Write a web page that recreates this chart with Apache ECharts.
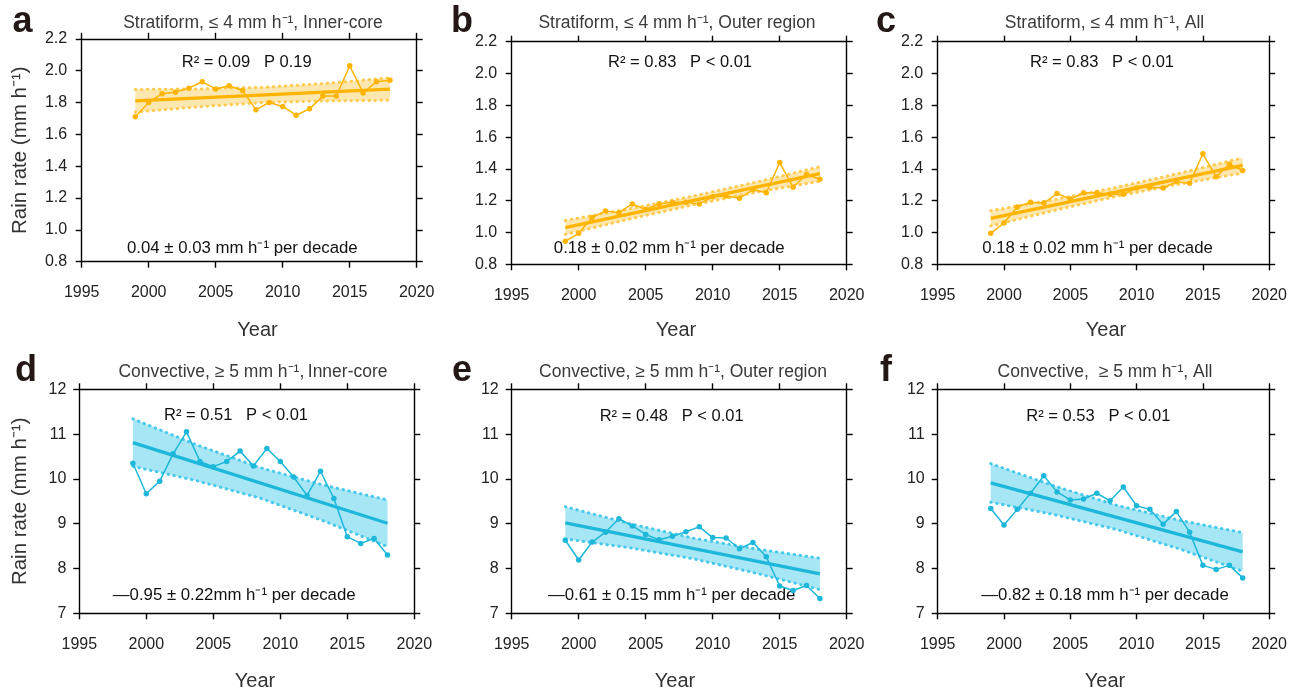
<!DOCTYPE html>
<html><head><meta charset="utf-8">
<script src="https://cdn.jsdelivr.net/npm/echarts@6/dist/echarts.min.js"></script>
<style>html,body{margin:0;padding:0;background:#fff}#c{width:1290px;height:691px}</style>
</head><body><div id="c"></div>
<script>
// ---------------- data ----------------
const years = [1999,2000,2001,2002,2003,2004,2005,2006,2007,2008,2009,2010,2011,2012,2013,2014,2015,2016,2017,2018];

const stratInner = [1.71,1.80,1.855,1.865,1.89,1.93,1.885,1.905,1.875,1.755,1.80,1.775,1.72,1.76,1.84,1.84,2.03,1.86,1.93,1.94];
const stratOuter = [0.945,0.995,1.095,1.135,1.125,1.18,1.145,1.18,1.19,1.19,1.18,1.225,1.23,1.215,1.27,1.25,1.44,1.285,1.365,1.335];
const stratAll   = [0.995,1.06,1.16,1.19,1.185,1.245,1.21,1.25,1.25,1.24,1.24,1.28,1.285,1.28,1.32,1.31,1.495,1.35,1.43,1.39];
const convInner  = [10.35,9.67,9.95,10.56,11.05,10.39,10.27,10.39,10.62,10.29,10.68,10.39,10.04,9.63,10.17,9.56,8.71,8.56,8.67,8.30];
const convOuter  = [8.63,8.19,8.59,8.81,9.11,8.95,8.76,8.64,8.72,8.82,8.93,8.69,8.68,8.44,8.58,8.26,7.61,7.51,7.62,7.33];
const convAll    = [9.34,8.97,9.32,9.68,10.07,9.71,9.53,9.55,9.68,9.51,9.82,9.40,9.32,8.99,9.27,8.81,8.07,7.98,8.07,7.79];

// fitted trend lines (read at 1999 and 2018)
const trendYears = [1999, 2018];
const trendStratInner = [1.81, 1.884];
const trendStratOuter = [1.031, 1.370];
const trendStratAll   = [1.089, 1.4225];
const trendConvInner  = [10.81, 9.01];
const trendConvOuter  = [9.02, 7.88];
const trendConvAll    = [9.91, 8.37];

// confidence band edges
const bandYears = [1999, 2003.75, 2008.5, 2013.25, 2018];
const bandUpStratInner = [1.882, 1.885, 1.895, 1.92, 1.955];
const bandLoStratInner = [1.74, 1.773, 1.80, 1.81, 1.814];
const bandUpStratOuter = [1.076, 1.148, 1.228, 1.317, 1.414];
const bandLoStratOuter = [0.988, 1.084, 1.173, 1.253, 1.322];
const bandUpStratAll   = [1.137, 1.206, 1.284, 1.373, 1.470];
const bandLoStratAll   = [1.041, 1.138, 1.228, 1.305, 1.374];
const bandUpConvInner  = [11.34, 10.76, 10.25, 9.86, 9.53];
const bandLoConvInner  = [10.28, 9.96, 9.57, 9.06, 8.49];
const bandUpConvOuter  = [9.38, 9.005, 8.68, 8.435, 8.23];
const bandLoConvOuter  = [8.66, 8.465, 8.22, 7.895, 7.53];
const bandUpConvAll    = [10.34, 9.845, 9.41, 9.075, 8.80];
const bandLoConvAll    = [9.48, 9.205, 8.87, 8.435, 7.94];

// text
const panelLetters = ['a','b','c','d','e','f'];
const panelTitles = [
  'Stratiform, \u2264 4 mm h\u207B\u00B9, Inner-core',
  'Stratiform, \u2264 4 mm h\u207B\u00B9, Outer region',
  'Stratiform, \u2264 4 mm h\u207B\u00B9, All',
  'Convective, \u2265 5 mm h\u207B\u00B9,\u2009Inner-core',
  'Convective, \u2265 5 mm h\u207B\u00B9, Outer region',
  'Convective,  \u2265 5 mm h\u207B\u00B9, All'
];
const statTexts = [
  'R\u00B2 = 0.09   P 0.19',
  'R\u00B2 = 0.83   P < 0.01',
  'R\u00B2 = 0.83   P < 0.01',
  'R\u00B2 = 0.51   P < 0.01',
  'R\u00B2 = 0.48   P < 0.01',
  'R\u00B2 = 0.53   P < 0.01'
];
const trendTexts = [
  '0.04 \u00B1 0.03 mm h\u207B\u00B9 per decade',
  '0.18 \u00B1 0.02 mm h\u207B\u00B9 per decade',
  '0.18 \u00B1 0.02 mm h\u207B\u00B9 per decade',
  '\u20140.95 \u00B1 0.22mm h\u207B\u00B9 per decade',
  '\u20140.61 \u00B1 0.15 mm h\u207B\u00B9 per decade',
  '\u20140.82 \u00B1 0.18 mm h\u207B\u00B9 per decade'
];
const xRange = [1995, 2020], xStep = 5;
const yRangeStrat = [0.8, 2.2], yStepStrat = 0.2;
const yRangeConv = [7, 12], yStepConv = 1;

// ---------------- layout / style ----------------
const FONT = '"Liberation Sans", Arial, Helvetica, sans-serif';
const ORANGE = {line:'#FFB400', fill:'#FDE7B0', dot:'#FFCB50'};
const CYAN = {line:'#1DB7DA', fill:'#A7E7F5', dot:'#47C9EC'};

const layout = [
  {left:81.7, top:38.8, width:335, height:222.9},
  {left:511.7,top:41.7, width:335, height:222.6},
  {left:937.7,top:41.7, width:335, height:222.6},
  {left:79.3, top:389.3,width:335, height:224},
  {left:511.7,top:389.3,width:335, height:224},
  {left:937.7,top:389.3,width:335, height:224}
];
// text anchor positions [x, y]
const titlePos  = [[253,23],[677,23],[1104.5,23],[253,372],[683,372],[1105,372]];
const letterPos = [[22.5,22],[462,22],[886,22],[26,371],[462,371],[886,371]];
const statPos   = [[246.7,62],[680,62],[1102,62],[236,415.7],[671.7,416],[1098.3,416]];
const decPos    = [[242.3,248.3],[669.2,248.3],[1097.5,248.3],[234.2,595.7],[671.7,595.7],[1105,595.7]];
const yearPos   = [[257.5,330],[676,330],[1106,330],[255,681],[675,681],[1105,681]];

const panels = [
  {vals:stratInner, trend:trendStratInner, up:bandUpStratInner, lo:bandLoStratInner, c:ORANGE, yr:yRangeStrat, ys:yStepStrat},
  {vals:stratOuter, trend:trendStratOuter, up:bandUpStratOuter, lo:bandLoStratOuter, c:ORANGE, yr:yRangeStrat, ys:yStepStrat},
  {vals:stratAll,   trend:trendStratAll,   up:bandUpStratAll,   lo:bandLoStratAll,   c:ORANGE, yr:yRangeStrat, ys:yStepStrat},
  {vals:convInner,  trend:trendConvInner,  up:bandUpConvInner,  lo:bandLoConvInner,  c:CYAN,   yr:yRangeConv,  ys:yStepConv},
  {vals:convOuter,  trend:trendConvOuter,  up:bandUpConvOuter,  lo:bandLoConvOuter,  c:CYAN,   yr:yRangeConv,  ys:yStepConv},
  {vals:convAll,    trend:trendConvAll,    up:bandUpConvAll,    lo:bandLoConvAll,    c:CYAN,   yr:yRangeConv,  ys:yStepConv}
];

const axisLine = {show:true, onZero:false, lineStyle:{color:'#000', width:1.4}};
const axisTick = {show:true, inside:false, length:6, lineStyle:{color:'#000', width:1.4}};

const grid = [], xAxis = [], yAxis = [], series = [], graphic = [];

panels.forEach((p, i) => {
  const L = layout[i];
  grid.push({left:L.left, top:L.top, width:L.width, height:L.height, containLabel:false});
  const strat = p.yr === yRangeStrat;
  xAxis.push({type:'value', gridIndex:i, position:'bottom', min:xRange[0], max:xRange[1], interval:xStep,
    axisLine, axisTick, splitLine:{show:false},
    axisLabel:{show:true, margin:23, fontSize:16, color:'#222', fontFamily:FONT, formatter: v => String(v)}});
  xAxis.push({type:'value', gridIndex:i, position:'top', min:xRange[0], max:xRange[1], interval:xStep,
    axisLine, axisTick, splitLine:{show:false}, axisLabel:{show:false}});
  yAxis.push({type:'value', gridIndex:i, position:'left', min:p.yr[0], max:p.yr[1], interval:p.ys,
    axisLine, axisTick, splitLine:{show:false},
    axisLabel:{show:true, margin: i < 3 ? 14.5 : 13, fontSize:16, color:'#222', fontFamily:FONT,
      formatter: v => strat ? v.toFixed(1) : String(Math.round(v))}});
  yAxis.push({type:'value', gridIndex:i, position:'right', min:p.yr[0], max:p.yr[1], interval:p.ys,
    axisLine, axisTick, splitLine:{show:false}, axisLabel:{show:false}});

  const xi = 2*i, yi = 2*i;
  // band fill
  series.push({type:'custom', xAxisIndex:xi, yAxisIndex:yi, silent:true, z:1,
    data: bandYears.map((x, k) => [x, p.lo[k], p.up[k]]),
    encode:{x:0, y:[1,2]},
    renderItem: (params, api) => {
      if (params.dataIndex !== 0) return null;
      const pts = [];
      for (let k = 0; k < bandYears.length; k++) pts.push(api.coord([bandYears[k], p.up[k]]));
      for (let k = bandYears.length - 1; k >= 0; k--) pts.push(api.coord([bandYears[k], p.lo[k]]));
      return {type:'polygon', shape:{points:pts}, style:{fill:p.c.fill}};
    }});
  // dotted edges
  [p.up, p.lo].forEach(edge => {
    series.push({type:'line', xAxisIndex:xi, yAxisIndex:yi, silent:true, z:2, showSymbol:false, symbol:'none',
      data: bandYears.map((x, k) => [x, edge[k]]),
      lineStyle:{color:p.c.dot, width:3, type:[0.5, 5.5], cap:'round'}});
  });
  // trend
  series.push({type:'line', xAxisIndex:xi, yAxisIndex:yi, silent:true, z:3, showSymbol:false, symbol:'none',
    data: trendYears.map((x, k) => [x, p.trend[k]]),
    lineStyle:{color:p.c.line, width:3.4}});
  // observations
  series.push({type:'line', xAxisIndex:xi, yAxisIndex:yi, silent:true, z:4,
    data: years.map((x, k) => [x, p.vals[k]]),
    symbol:'circle', symbolSize:5.5, showSymbol:true,
    itemStyle:{color:p.c.line}, lineStyle:{color:p.c.line, width:1.5}});

  // texts
  graphic.push({type:'text', x: titlePos[i][0], y: titlePos[i][1], style:{text:panelTitles[i], font:'17.5px ' + FONT, fill:'#3a3a3a', align:'center', verticalAlign:'middle'}});
  graphic.push({type:'text', x: letterPos[i][0], y: letterPos[i][1], style:{text:panelLetters[i], font:'bold 36px ' + FONT, fill:'#231815', align:'center', verticalAlign:'middle'}});
  graphic.push({type:'text', x: statPos[i][0], y: statPos[i][1], style:{text:statTexts[i], font:'16.5px ' + FONT, fill:'#111', align:'center', verticalAlign:'middle'}});
  graphic.push({type:'text', x: decPos[i][0], y: decPos[i][1], style:{text:trendTexts[i], font:'16.8px ' + FONT, fill:'#111', align:'center', verticalAlign:'middle'}});
  graphic.push({type:'text', x: yearPos[i][0], y: yearPos[i][1], style:{text:'Year', font:'20px ' + FONT, fill:'#333', align:'center', verticalAlign:'middle'}});
  if (i % 3 === 0) {
    graphic.push({type:'text', x: 20, y: L.top + L.height / 2, rotation: Math.PI / 2,
      style:{text:'Rain rate (mm h\u207B\u00B9)', font:'20.5px ' + FONT, fill:'#333', align:'center', verticalAlign:'middle'}});
  }
});

const chart = echarts.init(document.getElementById('c'), null, {renderer:'canvas'});
chart.setOption({animation:false, backgroundColor:'#fff', grid, xAxis, yAxis, series, graphic});
</script></body></html>
